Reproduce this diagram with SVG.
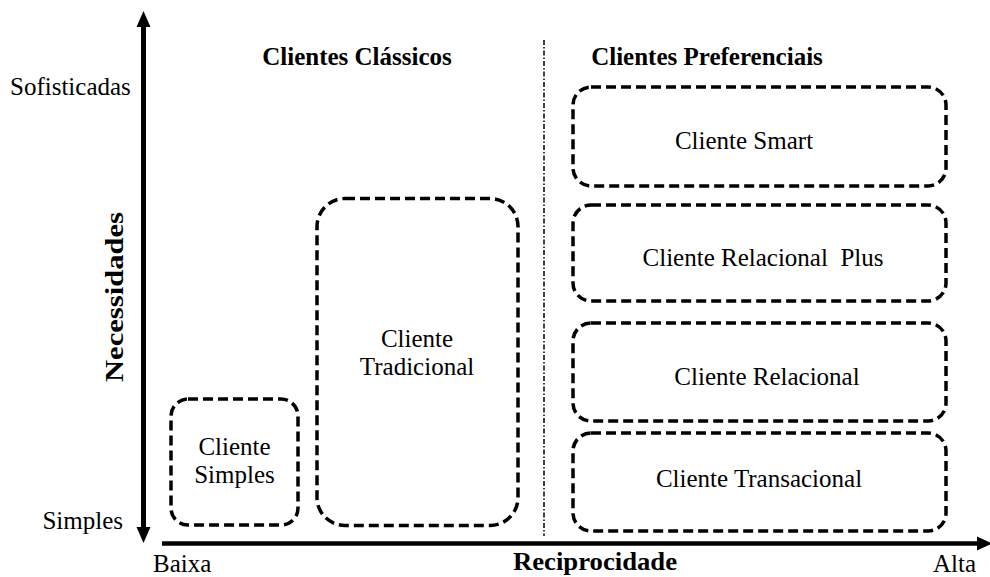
<svg xmlns="http://www.w3.org/2000/svg" width="990" height="577" viewBox="0 0 990 577">
  <style>
    .t { font-family: "Liberation Serif", "Times New Roman", serif; font-size: 25px; fill: #000; }
    .b { font-weight: bold; }
    .box { fill: none; stroke: #000; stroke-width: 3.5; stroke-dasharray: 10 5; }
    .axis { stroke: #000; fill: none; }
  </style>
  <rect width="990" height="577" fill="#fff"/>

  <!-- axes -->
  <g id="axes">
    <line class="axis" x1="143.5" y1="24" x2="143.5" y2="530" stroke-width="5"/>
    <polygon points="143.5,11 136.5,27 150.5,27" fill="#000"/>
    <polygon points="143.5,543 136.5,527 150.5,527" fill="#000"/>
    <line class="axis" x1="162" y1="543.5" x2="980" y2="543.5" stroke-width="4.5"/>
    <polygon points="992,543.5 977,536.5 977,550.5" fill="#000"/>
  </g>

  <!-- divider between the two client groups -->
  <g id="divider">
    <line x1="544" y1="40" x2="544" y2="536" stroke="#000" stroke-width="1.5" stroke-dasharray="5 2 1.5 2"/>
  </g>

  <!-- axis labels -->
  <g id="labels">
    <text class="t" x="10" y="95">Sofisticadas</text>
    <text class="t" x="123" y="529" text-anchor="end">Simples</text>
    <text class="t" x="153" y="572">Baixa</text>
    <text class="t" x="976" y="572" text-anchor="end">Alta</text>
    <text class="t b" x="595" y="570" text-anchor="middle" textLength="164" lengthAdjust="spacingAndGlyphs">Reciprocidade</text>
    <text class="t b" transform="translate(123,297) rotate(-90)" text-anchor="middle" textLength="170" lengthAdjust="spacingAndGlyphs">Necessidades</text>
    <text class="t b" x="357" y="65" text-anchor="middle">Clientes Clássicos</text>
    <text class="t b" x="707" y="65" text-anchor="middle">Clientes Preferenciais</text>
  </g>

  <!-- classic clients -->
  <g id="cliente-simples">
    <rect class="box" x="171" y="399" width="127" height="126" rx="17"/>
    <text class="t" x="234.5" y="455" text-anchor="middle">Cliente</text>
    <text class="t" x="234.5" y="483" text-anchor="middle">Simples</text>
  </g>
  <g id="cliente-tradicional">
    <rect class="box" x="317" y="198.5" width="201" height="327" rx="28"/>
    <text class="t" x="417" y="347" text-anchor="middle">Cliente</text>
    <text class="t" x="417" y="375" text-anchor="middle">Tradicional</text>
  </g>

  <!-- preferential clients -->
  <g id="cliente-smart">
    <rect class="box" x="573" y="87" width="373" height="99" rx="18"/>
    <text class="t" x="744" y="149" text-anchor="middle">Cliente Smart</text>
  </g>
  <g id="cliente-relacional-plus">
    <rect class="box" x="573" y="205" width="373" height="96" rx="18"/>
    <text class="t" x="763" y="266" text-anchor="middle" xml:space="preserve">Cliente Relacional  Plus</text>
  </g>
  <g id="cliente-relacional">
    <rect class="box" x="573" y="323" width="373" height="98" rx="18"/>
    <text class="t" x="767" y="385" text-anchor="middle">Cliente Relacional</text>
  </g>
  <g id="cliente-transacional">
    <rect class="box" x="573" y="433" width="373" height="98" rx="18"/>
    <text class="t" x="759" y="487" text-anchor="middle">Cliente Transacional</text>
  </g>

  <g id="connectors"></g>
</svg>
